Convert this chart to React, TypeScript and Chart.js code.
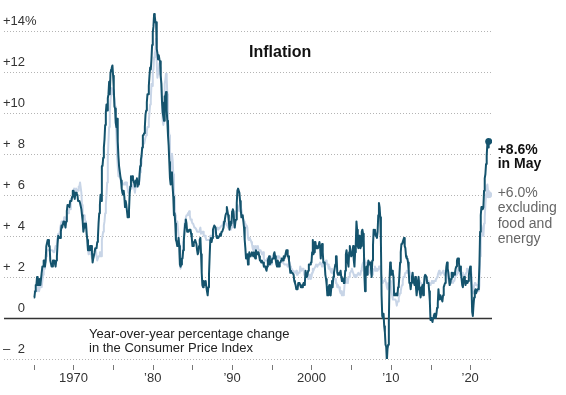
import { useEffect, useRef } from "react";
import { Chart, registerables } from "chart.js";

Chart.register(...registerables);

// Monthly data, January 1965 .. May 2022
const START_YEAR = 1965;

// Consumer Price Index, all items, year-over-year % change
const headlineCPI: number[] = [
  1.0, 1.0, 1.3, 1.6, 1.6, 2.0, 1.6, 1.9, 1.6, 1.9, 1.6, 1.9, // 1965
  1.9, 2.5, 2.5, 2.8, 2.8, 2.5, 2.8, 3.5, 3.5, 3.8, 3.8, 3.5, // 1966
  3.5, 2.8, 2.8, 2.5, 2.5, 2.8, 2.8, 2.8, 2.8, 2.5, 2.8, 3.0, // 1967
  3.6, 4.0, 4.0, 3.9, 3.9, 4.2, 4.5, 4.4, 4.4, 4.7, 4.7, 4.7, // 1968
  4.4, 4.7, 5.2, 5.5, 5.5, 5.5, 5.4, 5.7, 5.7, 5.7, 5.9, 6.2, // 1969
  6.2, 6.1, 5.8, 6.1, 6.1, 6.0, 6.0, 5.7, 5.7, 5.7, 5.6, 5.6, // 1970
  5.3, 5.0, 4.7, 4.2, 4.4, 4.6, 4.4, 4.6, 4.1, 3.8, 3.3, 3.3, // 1971
  3.3, 3.5, 3.5, 3.5, 3.2, 2.7, 2.9, 2.9, 3.2, 3.4, 3.4, 3.4, // 1972
  3.7, 3.9, 4.6, 5.1, 5.5, 6.0, 5.7, 7.4, 7.4, 7.8, 8.3, 8.7, // 1973
  9.4, 10.0, 10.4, 10.1, 10.7, 10.9, 11.5, 10.9, 11.9, 12.1, 12.2, 12.3, // 1974
  11.8, 11.2, 10.3, 10.2, 9.5, 9.3, 9.7, 8.6, 7.9, 7.4, 7.4, 6.9, // 1975
  6.7, 6.3, 6.1, 6.0, 6.2, 5.9, 5.4, 5.7, 5.5, 5.5, 4.9, 4.9, // 1976
  5.2, 6.0, 6.4, 6.9, 6.7, 6.9, 6.8, 6.6, 6.6, 6.4, 6.7, 6.7, // 1977
  6.8, 6.4, 6.6, 6.5, 7.0, 7.4, 7.7, 7.9, 8.3, 8.9, 8.9, 9.0, // 1978
  9.3, 9.9, 10.1, 10.5, 10.9, 10.9, 11.3, 11.8, 12.2, 12.1, 12.6, 13.3, // 1979
  13.9, 14.2, 14.8, 14.7, 14.4, 14.4, 13.1, 12.9, 12.6, 12.8, 12.6, 12.5, // 1980
  11.8, 11.4, 10.5, 10.0, 9.8, 9.6, 10.8, 10.8, 11.0, 10.1, 9.6, 8.9, // 1981
  8.4, 7.6, 6.8, 6.5, 6.7, 7.1, 6.4, 5.9, 5.0, 5.1, 4.6, 3.8, // 1982
  3.7, 3.5, 3.6, 3.9, 3.5, 2.6, 2.5, 2.6, 2.9, 2.9, 3.3, 3.8, // 1983
  4.2, 4.6, 4.8, 4.6, 4.2, 4.2, 4.2, 4.3, 4.3, 4.3, 4.1, 3.9, // 1984
  3.5, 3.5, 3.7, 3.7, 3.8, 3.8, 3.6, 3.3, 3.1, 3.2, 3.5, 3.8, // 1985
  3.9, 3.1, 2.2, 1.6, 1.5, 1.8, 1.6, 1.6, 1.8, 1.5, 1.3, 1.1, // 1986
  1.5, 2.1, 3.0, 3.8, 3.9, 3.7, 3.9, 4.3, 4.4, 4.5, 4.5, 4.4, // 1987
  4.0, 3.9, 3.9, 3.9, 3.9, 4.0, 4.1, 4.0, 4.2, 4.2, 4.2, 4.4, // 1988
  4.7, 4.8, 5.0, 5.1, 5.4, 5.2, 5.0, 4.7, 4.3, 4.5, 4.7, 4.6, // 1989
  5.2, 5.3, 5.2, 4.7, 4.4, 4.7, 4.8, 5.6, 6.2, 6.3, 6.3, 6.1, // 1990
  5.7, 5.3, 4.9, 4.9, 5.0, 4.7, 4.4, 3.8, 3.4, 2.9, 3.0, 3.1, // 1991
  2.6, 2.8, 3.2, 3.2, 3.0, 3.1, 3.2, 3.1, 3.0, 3.2, 3.0, 2.9, // 1992
  3.3, 3.2, 3.1, 3.2, 3.2, 3.0, 2.8, 2.8, 2.7, 2.8, 2.7, 2.7, // 1993
  2.5, 2.5, 2.5, 2.4, 2.3, 2.5, 2.8, 2.9, 3.0, 2.6, 2.7, 2.7, // 1994
  2.8, 2.9, 2.9, 3.1, 3.2, 3.0, 2.8, 2.6, 2.5, 2.8, 2.6, 2.5, // 1995
  2.7, 2.7, 2.8, 2.9, 2.9, 2.8, 3.0, 2.9, 3.0, 3.0, 3.3, 3.3, // 1996
  3.0, 3.0, 2.8, 2.5, 2.2, 2.3, 2.2, 2.2, 2.2, 2.1, 1.8, 1.7, // 1997
  1.6, 1.4, 1.4, 1.4, 1.7, 1.7, 1.7, 1.6, 1.5, 1.5, 1.5, 1.6, // 1998
  1.7, 1.6, 1.7, 2.3, 2.1, 2.0, 2.1, 2.3, 2.6, 2.6, 2.6, 2.7, // 1999
  2.7, 3.2, 3.8, 3.1, 3.2, 3.7, 3.7, 3.4, 3.5, 3.4, 3.4, 3.4, // 2000
  3.7, 3.5, 2.9, 3.3, 3.6, 3.2, 2.7, 2.7, 2.6, 2.1, 1.9, 1.6, // 2001
  1.1, 1.1, 1.5, 1.6, 1.2, 1.1, 1.5, 1.8, 1.5, 2.0, 2.2, 2.4, // 2002
  2.6, 3.0, 3.0, 2.2, 2.1, 2.1, 2.1, 2.2, 2.3, 2.0, 1.8, 1.9, // 2003
  1.9, 1.7, 1.7, 2.3, 3.1, 3.3, 3.0, 2.7, 2.5, 3.2, 3.5, 3.3, // 2004
  3.0, 3.0, 3.1, 3.5, 2.8, 2.5, 3.2, 3.6, 4.7, 4.3, 3.5, 3.4, // 2005
  4.0, 3.6, 3.4, 3.5, 4.2, 4.3, 4.1, 3.8, 2.1, 1.3, 2.0, 2.5, // 2006
  2.1, 2.4, 2.8, 2.6, 2.7, 2.7, 2.4, 2.0, 2.8, 3.5, 4.3, 4.1, // 2007
  4.3, 4.0, 4.0, 3.9, 4.2, 5.0, 5.6, 5.4, 4.9, 3.7, 1.1, 0.1, // 2008
  0.0, 0.2, -0.4, -0.7, -1.3, -1.4, -2.1, -1.5, -1.3, -0.2, 1.8, 2.7, // 2009
  2.6, 2.1, 2.3, 2.2, 2.0, 1.1, 1.2, 1.1, 1.1, 1.2, 1.1, 1.5, // 2010
  1.6, 2.1, 2.7, 3.2, 3.6, 3.6, 3.6, 3.8, 3.9, 3.5, 3.4, 3.0, // 2011
  2.9, 2.9, 2.7, 2.3, 1.7, 1.7, 1.4, 1.7, 2.0, 2.2, 1.8, 1.7, // 2012
  1.6, 2.0, 1.5, 1.1, 1.4, 1.8, 2.0, 1.5, 1.2, 1.0, 1.2, 1.5, // 2013
  1.6, 1.1, 1.5, 2.0, 2.1, 2.1, 2.0, 1.7, 1.7, 1.7, 1.3, 0.8, // 2014
  -0.1, 0.0, -0.1, -0.2, 0.0, 0.1, 0.2, 0.2, 0.0, 0.2, 0.5, 0.7, // 2015
  1.4, 1.0, 0.9, 1.1, 1.0, 1.0, 0.8, 1.1, 1.5, 1.6, 1.7, 2.1, // 2016
  2.5, 2.7, 2.4, 2.2, 1.9, 1.6, 1.7, 1.9, 2.2, 2.0, 2.2, 2.1, // 2017
  2.1, 2.2, 2.4, 2.5, 2.8, 2.9, 2.9, 2.7, 2.3, 2.5, 2.2, 1.9, // 2018
  1.6, 1.5, 1.9, 2.0, 1.8, 1.6, 1.8, 1.7, 1.7, 1.8, 2.1, 2.3, // 2019
  2.5, 2.3, 1.5, 0.3, 0.1, 0.6, 1.0, 1.3, 1.4, 1.2, 1.2, 1.4, // 2020
  1.4, 1.7, 2.6, 4.2, 5.0, 5.4, 5.4, 5.3, 5.4, 6.2, 6.8, 7.0, // 2021
  7.5, 7.9, 8.5, 8.3, 8.6, // 2022
];

// CPI excluding food and energy, year-over-year % change
const coreCPI: number[] = [
  1.3, 1.3, 1.3, 1.3, 1.3, 1.3, 1.3, 1.6, 1.3, 1.3, 1.6, 1.6, // 1965
  1.5, 1.8, 2.1, 2.4, 2.4, 2.7, 2.7, 3.0, 3.3, 3.3, 3.3, 3.3, // 1966
  3.3, 3.3, 3.3, 3.3, 3.3, 3.3, 3.2, 3.2, 3.2, 3.5, 3.5, 3.8, // 1967
  3.9, 4.1, 4.1, 4.1, 4.4, 4.4, 4.7, 4.7, 4.7, 4.6, 4.9, 4.8, // 1968
  4.8, 4.8, 5.0, 5.1, 5.1, 5.3, 5.3, 5.3, 5.8, 5.8, 5.8, 5.8, // 1969
  6.1, 6.3, 6.3, 6.0, 6.3, 6.3, 6.2, 6.2, 6.4, 6.4, 6.6, 6.6, // 1970
  6.1, 5.5, 5.0, 5.0, 5.0, 4.9, 4.7, 4.6, 4.1, 3.8, 3.3, 3.1, // 1971
  3.3, 3.3, 3.1, 3.1, 2.9, 2.9, 2.9, 2.9, 3.1, 3.1, 3.3, 3.0, // 1972
  2.8, 2.8, 3.0, 3.0, 3.2, 3.2, 3.0, 3.8, 4.0, 4.2, 4.5, 4.7, // 1973
  5.1, 5.5, 6.0, 6.6, 7.8, 8.6, 9.3, 10.0, 10.6, 10.9, 11.2, 11.1, // 1974
  11.1, 10.8, 10.7, 10.3, 9.5, 8.9, 7.9, 7.4, 6.9, 6.9, 6.9, 6.8, // 1975
  6.6, 6.6, 6.6, 6.5, 6.5, 6.5, 6.6, 6.5, 6.6, 6.5, 6.3, 6.1, // 1976
  6.2, 6.2, 6.4, 6.4, 6.3, 6.5, 6.4, 6.5, 6.3, 6.1, 6.4, 6.5, // 1977
  6.4, 6.4, 6.4, 6.4, 6.7, 7.1, 7.5, 7.5, 8.3, 8.5, 8.6, 8.5, // 1978
  8.5, 8.8, 8.9, 9.1, 9.3, 9.3, 9.6, 10.0, 10.4, 10.6, 11.4, 11.3, // 1979
  12.0, 12.1, 12.7, 12.9, 13.0, 13.6, 12.4, 11.7, 11.9, 12.0, 12.4, 12.2, // 1980
  11.7, 11.4, 10.5, 9.6, 9.4, 9.6, 11.4, 11.6, 11.9, 11.7, 10.9, 9.5, // 1981
  9.3, 8.9, 7.8, 7.0, 7.5, 8.0, 7.7, 7.0, 6.1, 5.9, 5.0, 4.5, // 1982
  4.6, 4.7, 4.7, 4.0, 3.6, 2.9, 2.4, 2.6, 2.8, 3.1, 3.7, 4.1, // 1983
  4.5, 4.8, 4.9, 5.0, 5.0, 5.1, 5.1, 5.2, 5.0, 4.8, 4.8, 4.7, // 1984
  4.6, 4.6, 4.6, 4.4, 4.4, 4.4, 4.3, 4.2, 4.2, 4.2, 4.2, 4.3, // 1985
  4.4, 4.1, 4.1, 4.2, 4.2, 4.0, 4.0, 4.0, 3.9, 3.8, 3.8, 3.8, // 1986
  3.8, 3.8, 3.8, 4.0, 3.9, 4.0, 3.9, 4.0, 4.1, 4.3, 4.3, 4.2, // 1987
  4.3, 4.3, 4.4, 4.3, 4.3, 4.4, 4.4, 4.4, 4.5, 4.5, 4.6, 4.7, // 1988
  4.6, 4.7, 4.6, 4.6, 4.5, 4.5, 4.4, 4.4, 4.4, 4.3, 4.4, 4.4, // 1989
  4.4, 4.6, 4.9, 5.0, 4.9, 5.1, 5.2, 5.5, 5.5, 5.3, 5.3, 5.2, // 1990
  5.6, 5.6, 5.3, 5.1, 5.1, 4.8, 4.7, 4.6, 4.6, 4.4, 4.5, 4.4, // 1991
  3.9, 3.8, 3.9, 3.8, 3.8, 3.7, 3.6, 3.4, 3.3, 3.5, 3.4, 3.3, // 1992
  3.5, 3.4, 3.4, 3.5, 3.3, 3.3, 3.3, 3.3, 3.2, 3.1, 3.1, 3.2, // 1993
  2.9, 2.8, 2.8, 2.8, 2.8, 2.9, 2.9, 2.9, 3.0, 2.9, 2.8, 2.6, // 1994
  2.9, 3.0, 3.0, 3.0, 3.1, 3.0, 2.9, 3.0, 2.9, 3.0, 3.0, 3.0, // 1995
  3.0, 2.9, 2.8, 2.7, 2.7, 2.7, 2.7, 2.6, 2.6, 2.6, 2.6, 2.6, // 1996
  2.5, 2.5, 2.5, 2.7, 2.5, 2.4, 2.4, 2.3, 2.2, 2.3, 2.2, 2.2, // 1997
  2.2, 2.3, 2.1, 2.1, 2.2, 2.2, 2.2, 2.5, 2.5, 2.3, 2.4, 2.4, // 1998
  2.4, 2.1, 2.1, 2.2, 2.0, 2.1, 2.1, 1.9, 2.0, 2.1, 2.1, 1.9, // 1999
  2.0, 2.2, 2.4, 2.3, 2.4, 2.4, 2.5, 2.6, 2.6, 2.5, 2.6, 2.6, // 2000
  2.6, 2.7, 2.7, 2.6, 2.5, 2.7, 2.7, 2.7, 2.6, 2.6, 2.8, 2.7, // 2001
  2.6, 2.6, 2.4, 2.5, 2.5, 2.3, 2.2, 2.4, 2.2, 2.2, 2.0, 1.9, // 2002
  1.9, 1.7, 1.7, 1.5, 1.6, 1.5, 1.5, 1.3, 1.2, 1.3, 1.1, 1.1, // 2003
  1.1, 1.2, 1.6, 1.8, 1.7, 1.9, 1.8, 1.7, 2.0, 2.0, 2.2, 2.2, // 2004
  2.3, 2.4, 2.3, 2.2, 2.2, 2.0, 2.1, 2.1, 2.0, 2.1, 2.1, 2.2, // 2005
  2.1, 2.1, 2.1, 2.3, 2.4, 2.6, 2.7, 2.8, 2.9, 2.7, 2.6, 2.6, // 2006
  2.7, 2.7, 2.5, 2.3, 2.2, 2.2, 2.2, 2.1, 2.1, 2.2, 2.3, 2.4, // 2007
  2.5, 2.3, 2.4, 2.3, 2.3, 2.4, 2.5, 2.5, 2.5, 2.2, 2.0, 1.8, // 2008
  1.7, 1.8, 1.8, 1.9, 1.8, 1.7, 1.5, 1.4, 1.5, 1.7, 1.7, 1.8, // 2009
  1.6, 1.3, 1.1, 0.9, 0.9, 0.9, 0.9, 0.9, 0.8, 0.6, 0.8, 0.8, // 2010
  1.0, 1.1, 1.2, 1.3, 1.5, 1.6, 1.8, 2.0, 2.0, 2.1, 2.2, 2.2, // 2011
  2.3, 2.2, 2.3, 2.3, 2.3, 2.2, 2.1, 1.9, 2.0, 2.0, 1.9, 1.9, // 2012
  1.9, 2.0, 1.9, 1.7, 1.7, 1.6, 1.7, 1.8, 1.7, 1.7, 1.7, 1.7, // 2013
  1.6, 1.6, 1.7, 1.8, 2.0, 1.9, 1.9, 1.7, 1.7, 1.8, 1.7, 1.6, // 2014
  1.6, 1.7, 1.8, 1.8, 1.7, 1.8, 1.8, 1.8, 1.9, 1.9, 2.0, 2.1, // 2015
  2.2, 2.3, 2.2, 2.1, 2.2, 2.2, 2.2, 2.3, 2.2, 2.1, 2.1, 2.2, // 2016
  2.3, 2.2, 2.0, 1.9, 1.7, 1.7, 1.7, 1.7, 1.7, 1.8, 1.7, 1.8, // 2017
  1.8, 1.8, 2.1, 2.1, 2.2, 2.3, 2.4, 2.2, 2.2, 2.1, 2.2, 2.2, // 2018
  2.2, 2.1, 2.0, 2.1, 2.0, 2.1, 2.2, 2.4, 2.4, 2.3, 2.3, 2.3, // 2019
  2.3, 2.4, 2.1, 1.4, 1.2, 1.2, 1.6, 1.7, 1.7, 1.6, 1.6, 1.6, // 2020
  1.4, 1.3, 1.6, 3.0, 3.8, 4.5, 4.3, 4.0, 4.0, 4.6, 4.9, 5.5, // 2021
  6.0, 6.4, 6.5, 6.2, 6.0, // 2022
];

const yTickValues = [14, 12, 10, 8, 6, 4, 2, 0, -2];
const yTickSigns = ["+", "+", "+", "+", "+", "+", "+", "", "–"];
const yTickNumbers = ["14", "12", "10", "8", "6", "4", "2", "0", "2"];

const xTickYears = [1965, 1970, 1975, 1980, 1985, 1990, 1995, 2000, 2005, 2010, 2015, 2020];
const xLabelYears = [1970, 1980, 1990, 2000, 2010, 2020];
const xLabelTexts = ["1970", "’80", "’90", "2000", "’10", "’20"];

const titleText = "Inflation";
const captionLines = ["Year-over-year percentage change", "in the Consumer Price Index"];
const headlineNote = ["+8.6%", "in May"];
const coreNote = ["+6.0%", "excluding", "food and", "energy"];

const DARK = "#14536d";
const LIGHT = "#c8d5e7";
const FONT = "'Liberation Sans', Arial, sans-serif";

const toPoints = (arr: number[]) =>
  arr.map((v, i) => ({ x: START_YEAR + i / 12, y: v }));

const overlayPlugin = {
  id: "overlay",
  beforeDatasetsDraw(chart: any) {
    const { ctx, chartArea, scales } = chart;
    const y = scales.y;
    ctx.save();
    yTickValues.forEach((v) => {
      const py = Math.round(y.getPixelForValue(v)) + 0.5;
      ctx.beginPath();
      if (v === 0) {
        ctx.setLineDash([]);
        ctx.strokeStyle = "#333333";
        ctx.lineWidth = 1.3;
      } else {
        ctx.setLineDash([1, 2]);
        ctx.strokeStyle = "#b4b4b4";
        ctx.lineWidth = 1;
      }
      ctx.moveTo(chartArea.left, py);
      ctx.lineTo(chartArea.right, py);
      ctx.stroke();
    });
    ctx.restore();
  },
  afterDraw(chart: any) {
    const { ctx, scales } = chart;
    const x = scales.x;
    const y = scales.y;
    ctx.save();

    // y tick labels
    ctx.font = `13px ${FONT}`;
    ctx.fillStyle = "#333333";
    ctx.textBaseline = "alphabetic";
    yTickValues.forEach((v, i) => {
      const py = y.getPixelForValue(v) - 6;
      ctx.textAlign = "left";
      if (yTickSigns[i]) ctx.fillText(yTickSigns[i], 3, py);
      ctx.textAlign = "right";
      ctx.fillText(yTickNumbers[i], 25, py);
      if (i === 0) {
        ctx.textAlign = "left";
        ctx.fillText("%", 25, py);
      }
    });

    // x ticks
    const base = y.getPixelForValue(-2);
    ctx.strokeStyle = "#777777";
    ctx.lineWidth = 1;
    xTickYears.forEach((yr) => {
      const px = Math.round(x.getPixelForValue(yr)) + 0.5;
      ctx.beginPath();
      ctx.moveTo(px, base + 6);
      ctx.lineTo(px, base + 11);
      ctx.stroke();
    });
    ctx.textAlign = "center";
    ctx.fillStyle = "#333333";
    xLabelYears.forEach((yr, i) => {
      ctx.fillText(xLabelTexts[i], x.getPixelForValue(yr), base + 23);
    });

    // caption
    const zero = y.getPixelForValue(0);
    ctx.textAlign = "left";
    ctx.fillStyle = "#222222";
    ctx.fillText(captionLines[0], 89, zero + 20);
    ctx.fillText(captionLines[1], 89, zero + 34);

    // title
    ctx.font = `bold 16px ${FONT}`;
    ctx.fillStyle = "#111111";
    ctx.fillText(titleText, 249, 57);

    // end annotations
    const lastH = headlineCPI.length - 1;
    const lastC = coreCPI.length - 1;
    const ax = x.getPixelForValue(START_YEAR + lastH / 12) + 9;
    const hy = y.getPixelForValue(headlineCPI[lastH]);
    ctx.font = `bold 14px ${FONT}`;
    ctx.fillStyle = "#111111";
    ctx.fillText(headlineNote[0], ax, hy + 12.5);
    ctx.fillText(headlineNote[1], ax, hy + 27);

    const cy = y.getPixelForValue(coreCPI[lastC]);
    ctx.font = `14px ${FONT}`;
    ctx.fillStyle = "#666666";
    coreNote.forEach((t, i) => ctx.fillText(t, ax, cy + 2 + i * 15.5));

    ctx.restore();
  },
};

export default function App() {
  const canvasRef = useRef<HTMLCanvasElement | null>(null);

  useEffect(() => {
    if (!canvasRef.current) return;
    const lastH = headlineCPI.length - 1;
    const lastC = coreCPI.length - 1;
    const chart = new Chart(canvasRef.current, {
      type: "line",
      data: {
        datasets: [
          {
            label: "CPI",
            data: toPoints(headlineCPI),
            borderColor: DARK,
            backgroundColor: DARK,
            borderWidth: 2,
            tension: 0,
            borderJoinStyle: "round",
            pointRadius: (c: any) => (c.dataIndex === lastH ? 3.5 : 0),
            pointBackgroundColor: DARK,
            pointBorderWidth: 0,
            order: 0,
          },
          {
            label: "Core CPI",
            data: toPoints(coreCPI),
            borderColor: LIGHT,
            backgroundColor: LIGHT,
            borderWidth: 2,
            tension: 0,
            borderJoinStyle: "round",
            pointRadius: (c: any) => (c.dataIndex === lastC ? 3.5 : 0),
            pointBackgroundColor: LIGHT,
            pointBorderWidth: 0,
            order: 1,
          },
        ],
      },
      options: {
        animation: false,
        responsive: false,
        maintainAspectRatio: false,
        layout: { padding: { top: 10, bottom: 36, left: 0, right: 74 } },
        plugins: {
          legend: { display: false },
          tooltip: { enabled: false },
        },
        scales: {
          x: { type: "linear", min: 1961.25, max: 2022.75, display: false },
          y: { type: "linear", min: -2, max: 15, display: false },
        },
      },
      plugins: [overlayPlugin],
    } as any);
    return () => chart.destroy();
  }, []);

  return (
    <div style={{ position: "absolute", left: 0, top: 0, width: 566, height: 395, background: "#fff" }}>
      <canvas ref={canvasRef} width={566} height={395} style={{ width: 566, height: 395 }} />
    </div>
  );
}
